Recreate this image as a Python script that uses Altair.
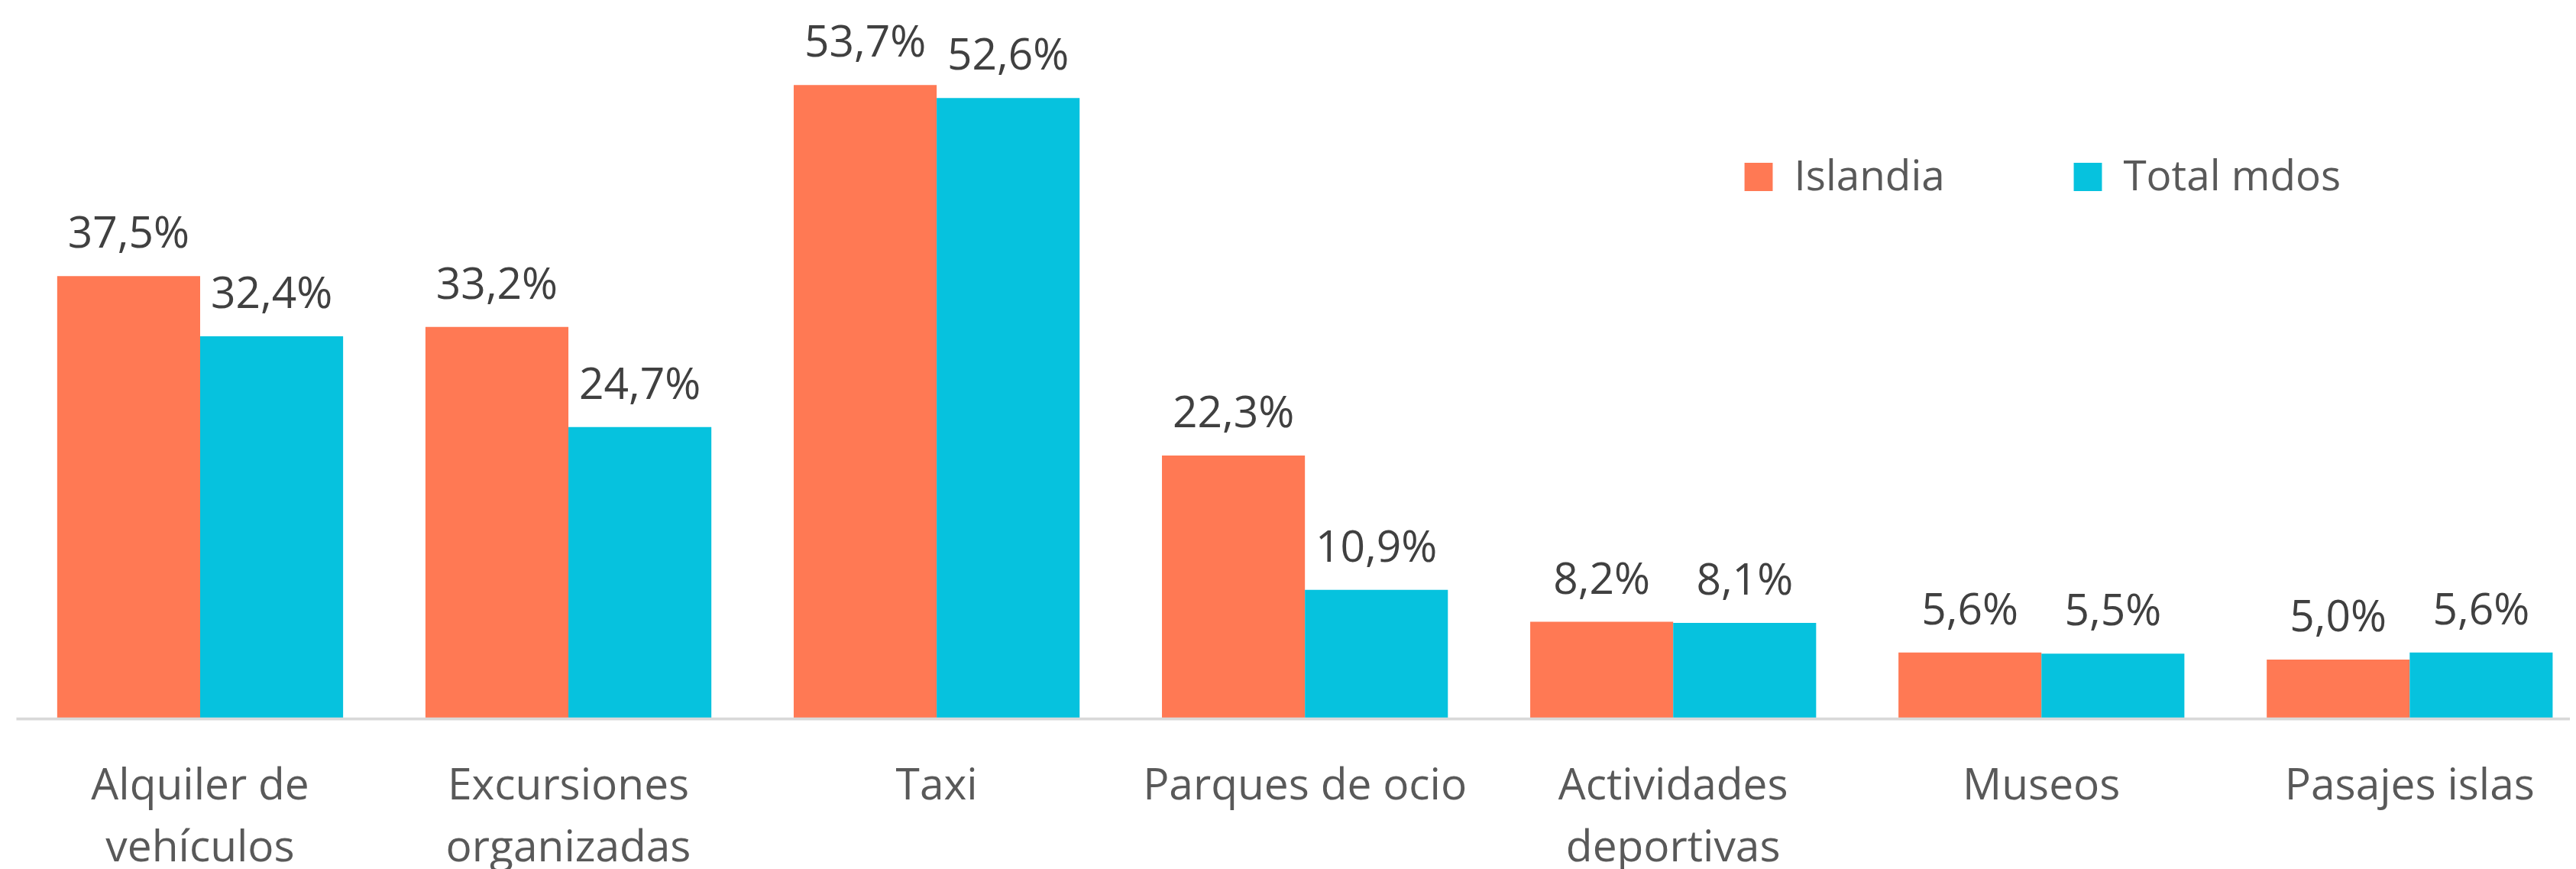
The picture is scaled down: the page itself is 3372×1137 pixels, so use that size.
import altair as alt
import pandas as pd

categories = ["Alquiler de|vehículos", "Excursiones|organizadas", "Taxi", "Parques de ocio",
              "Actividades|deportivas", "Museos", "Pasajes islas"]
series = ["Islandia", "Total mdos"]
islandia = [37.5, 33.2, 53.7, 22.3, 8.2, 5.6, 5.0]
total_mdos = [32.4, 24.7, 52.6, 10.9, 8.1, 5.5, 5.6]
colors = ["#FF7954", "#06C2DE"]

rows = []
for i, c in enumerate(categories):
    for s, vals in zip(series, [islandia, total_mdos]):
        v = vals[i]
        rows.append({"cat": c, "serie": s, "valor": v,
                     "etiqueta": f"{v:.1f}".replace(".", ",") + "%"})
df = pd.DataFrame(rows)

FONT = "Open Sans"

x = alt.X(
    "cat:N", sort=categories,
    scale=alt.Scale(range=[13, 3395.4], paddingInner=0.2236, paddingOuter=0.1118),
    axis=alt.Axis(title=None, labelExpr="split(datum.label, '|')", labelAngle=0,
                  ticks=False, tickSize=0, domainColor="#D9D9D9", domainWidth=4,
                  labelFont=FONT, labelFontSize=57, labelColor="#595959",
                  labelPadding=106, labelBaseline="alphabetic", labelLineHeight=81,
                  grid=False, labelLimit=0, labelOverlap=False, zindex=1),
)
y = alt.Y("valor:Q", scale=alt.Scale(domain=[0, 60.3], nice=False), axis=None)
xo = alt.XOffset("serie:N", sort=series, scale=alt.Scale(paddingInner=0, paddingOuter=0))

base = alt.Chart(df)

bars = base.mark_bar().encode(
    x=x, y=y, xOffset=xo,
    color=alt.Color("serie:N", scale=alt.Scale(domain=series, range=colors),
                    legend=alt.Legend(title=None, orient="none", legendX=2272, legendY=195,
                                      direction="horizontal", symbolType="square",
                                      symbolSize=1369, symbolStrokeWidth=0,
                                      labelFont=FONT, labelFontSize=55, labelColor="#595959",
                                      labelOffset=19, columnPadding=160, padding=0,
                                      labelLimit=0)),
)

text = base.mark_text(dy=-37, baseline="alphabetic", font=FONT, fontSize=57,
                      color="#404040").encode(
    x=x, y=y, xOffset=xo, text="etiqueta:N"
)

chart = alt.layer(bars, text).properties(
    width=3364, height=933,
    autosize=alt.AutoSizeParams(type="none"),
    padding={"left": 0, "top": 0, "right": 0, "bottom": 196},
).configure_view(stroke=None)

chart.save("out.html", embed_options={"renderer": "svg", "actions": False})
